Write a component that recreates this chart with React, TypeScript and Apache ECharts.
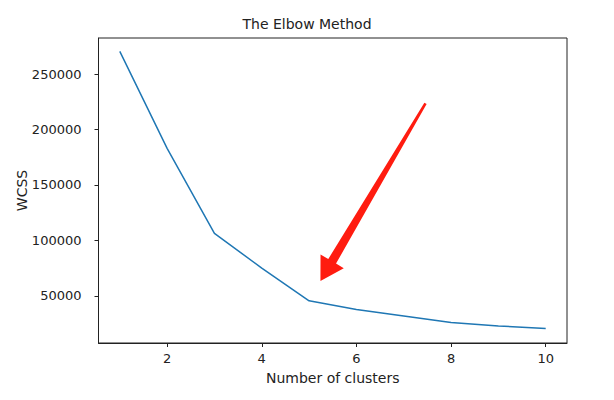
import React, { useEffect, useRef } from 'react';
import * as echarts from 'echarts';

const clusters = [1, 2, 3, 4, 5, 6, 7, 8, 9, 10];
const wcss = [270400, 183000, 106400, 75000, 45500, 37700, 31900, 26000, 22900, 20600];
const xTicks = [2, 4, 6, 8, 10];
const yTicks = [50000, 100000, 150000, 200000, 250000];

// arrow annotation, in data coordinates: [from, to]
const arrowFrom = [7.46, 223600];
const arrowTo = [5.24, 63300];

const FONT = 'DejaVu Sans';
const TEXT = '#222';

const App: React.FC = () => {
  const chartRef = useRef<HTMLDivElement>(null);

  useEffect(() => {
    if (!chartRef.current) return;
    const chart = echarts.init(chartRef.current, undefined, { renderer: 'svg' });

    const axisLine = { show: true, onZero: false, lineStyle: { color: TEXT, width: 1 } };

    const option: echarts.EChartsOption = {
      animation: false,
      backgroundColor: '#fff',
      title: {
        text: 'The Elbow Method',
        left: 'center',
        top: 17,
        padding: 0,
        textStyle: { fontFamily: FONT, fontSize: 14, fontWeight: 'normal', color: TEXT },
      },
      grid: {
        left: 98.5,
        right: 47,
        top: 38,
        bottom: 57,
        containLabel: false,
        outerBoundsMode: 'none',
        show: true,
        borderColor: TEXT,
        borderWidth: 1,
      } as any,
      xAxis: {
        type: 'value',
        min: 0.55,
        max: 10.45,
        name: 'Number of clusters',
        nameLocation: 'middle',
        nameGap: 28,
        nameMoveOverlap: false,
        nameTextStyle: { fontFamily: FONT, fontSize: 14, color: TEXT },
        axisLine,
        splitLine: { show: false },
        axisTick: { show: true, length: 4, customValues: xTicks, lineStyle: { color: TEXT } },
        axisLabel: {
          customValues: xTicks,
          margin: 9,
          fontFamily: FONT,
          fontSize: 13,
          color: TEXT,
          formatter: (v: number) => String(v),
        },
      } as any,
      yAxis: {
        type: 'value',
        min: 7500,
        max: 282500,
        name: 'WCSS',
        nameLocation: 'middle',
        nameGap: 70,
        nameMoveOverlap: false,
        nameTextStyle: { fontFamily: FONT, fontSize: 14, color: TEXT },
        axisLine,
        splitLine: { show: false },
        axisTick: { show: true, length: 4, customValues: yTicks, lineStyle: { color: TEXT } },
        axisLabel: {
          customValues: yTicks,
          margin: 17,
          fontFamily: FONT,
          fontSize: 13,
          color: TEXT,
          formatter: (v: number) => String(v),
        },
      } as any,
      series: [
        {
          type: 'line',
          data: clusters.map((c, i) => [c, wcss[i]]),
          showSymbol: false,
          lineStyle: { color: '#1f77b4', width: 1.5 },
          itemStyle: { color: '#1f77b4' },
        },
      ],
    };

    chart.setOption(option);

    // build the tapered red arrow in pixel space from its data end points
    const p0 = chart.convertToPixel({ gridIndex: 0 }, arrowFrom) as number[];
    const p1 = chart.convertToPixel({ gridIndex: 0 }, arrowTo) as number[];
    const dx = p1[0] - p0[0];
    const dy = p1[1] - p0[1];
    const len = Math.hypot(dx, dy);
    const ux = dx / len;
    const uy = dy / len;
    const nx = -uy;
    const ny = ux;
    const headLen = 23;
    const headHalf = 13.5;
    const shaftTail = 1.3;
    const shaftHead = 4.5;
    const bx = p1[0] - ux * headLen;
    const by = p1[1] - uy * headLen;
    const points = [
      [p0[0] + nx * shaftTail, p0[1] + ny * shaftTail],
      [bx + nx * shaftHead, by + ny * shaftHead],
      [bx + nx * headHalf, by + ny * headHalf],
      [p1[0], p1[1]],
      [bx - nx * headHalf, by - ny * headHalf],
      [bx - nx * shaftHead, by - ny * shaftHead],
      [p0[0] - nx * shaftTail, p0[1] - ny * shaftTail],
    ];

    chart.setOption({
      graphic: [
        {
          type: 'polygon',
          shape: { points },
          style: { fill: '#ff1c10' },
          z: 100,
        },
      ],
    });

    return () => {
      chart.dispose();
    };
  }, []);

  return (
    <div
      ref={chartRef}
      style={{ position: 'absolute', left: 0, top: 0, width: 614, height: 400 }}
    />
  );
};

export default App;
